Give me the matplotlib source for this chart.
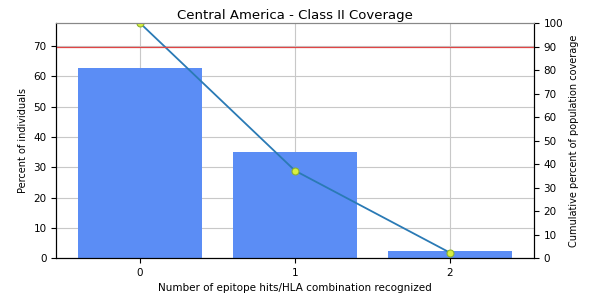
import numpy as np
import matplotlib.pyplot as plt

hits = [0, 1, 2]
percent_individuals = [62.8, 34.9, 2.3]
cumulative_coverage = [100.0, 37.2, 2.3]
threshold = 90

fig, ax = plt.subplots(figsize=(5.93, 2.96), dpi=100)
ax.bar(hits, percent_individuals, width=0.8, color='#5b8df5', zorder=2)
ax.set_xticks(hits)
ax.set_ylim(0, 77.6)
ax.grid(True, color='#c8c8c8', linewidth=0.8, zorder=0)
ax.set_axisbelow(True)
ax.set_ylabel('Percent of individuals', fontsize=7)
ax.set_xlabel('Number of epitope hits/HLA combination recognized', fontsize=7.5)
ax.tick_params(labelsize=7.5)
ax.set_title('Central America - Class II Coverage', fontsize=9.5, pad=3)
ax.spines['top'].set_color('#888888')

ax2 = ax.twinx()
ax2.plot(hits, cumulative_coverage, color='#2a7ab5', linewidth=1.3,
         marker='o', markersize=5, markerfacecolor='#d8f040',
         markeredgecolor='#8cb030', markeredgewidth=0.8)
ax2.axhline(threshold, color='#e04545', linewidth=0.9)
ax2.set_ylim(0, 100)
ax2.set_yticks(np.arange(0, 101, 10))
ax2.tick_params(labelsize=7.5)
ax2.set_ylabel('Cumulative percent of population coverage', fontsize=7)
ax2.spines['top'].set_color('#888888')

fig.subplots_adjust(left=0.095, right=0.9, top=0.922, bottom=0.128)
fig.savefig('out.png', dpi=100)
